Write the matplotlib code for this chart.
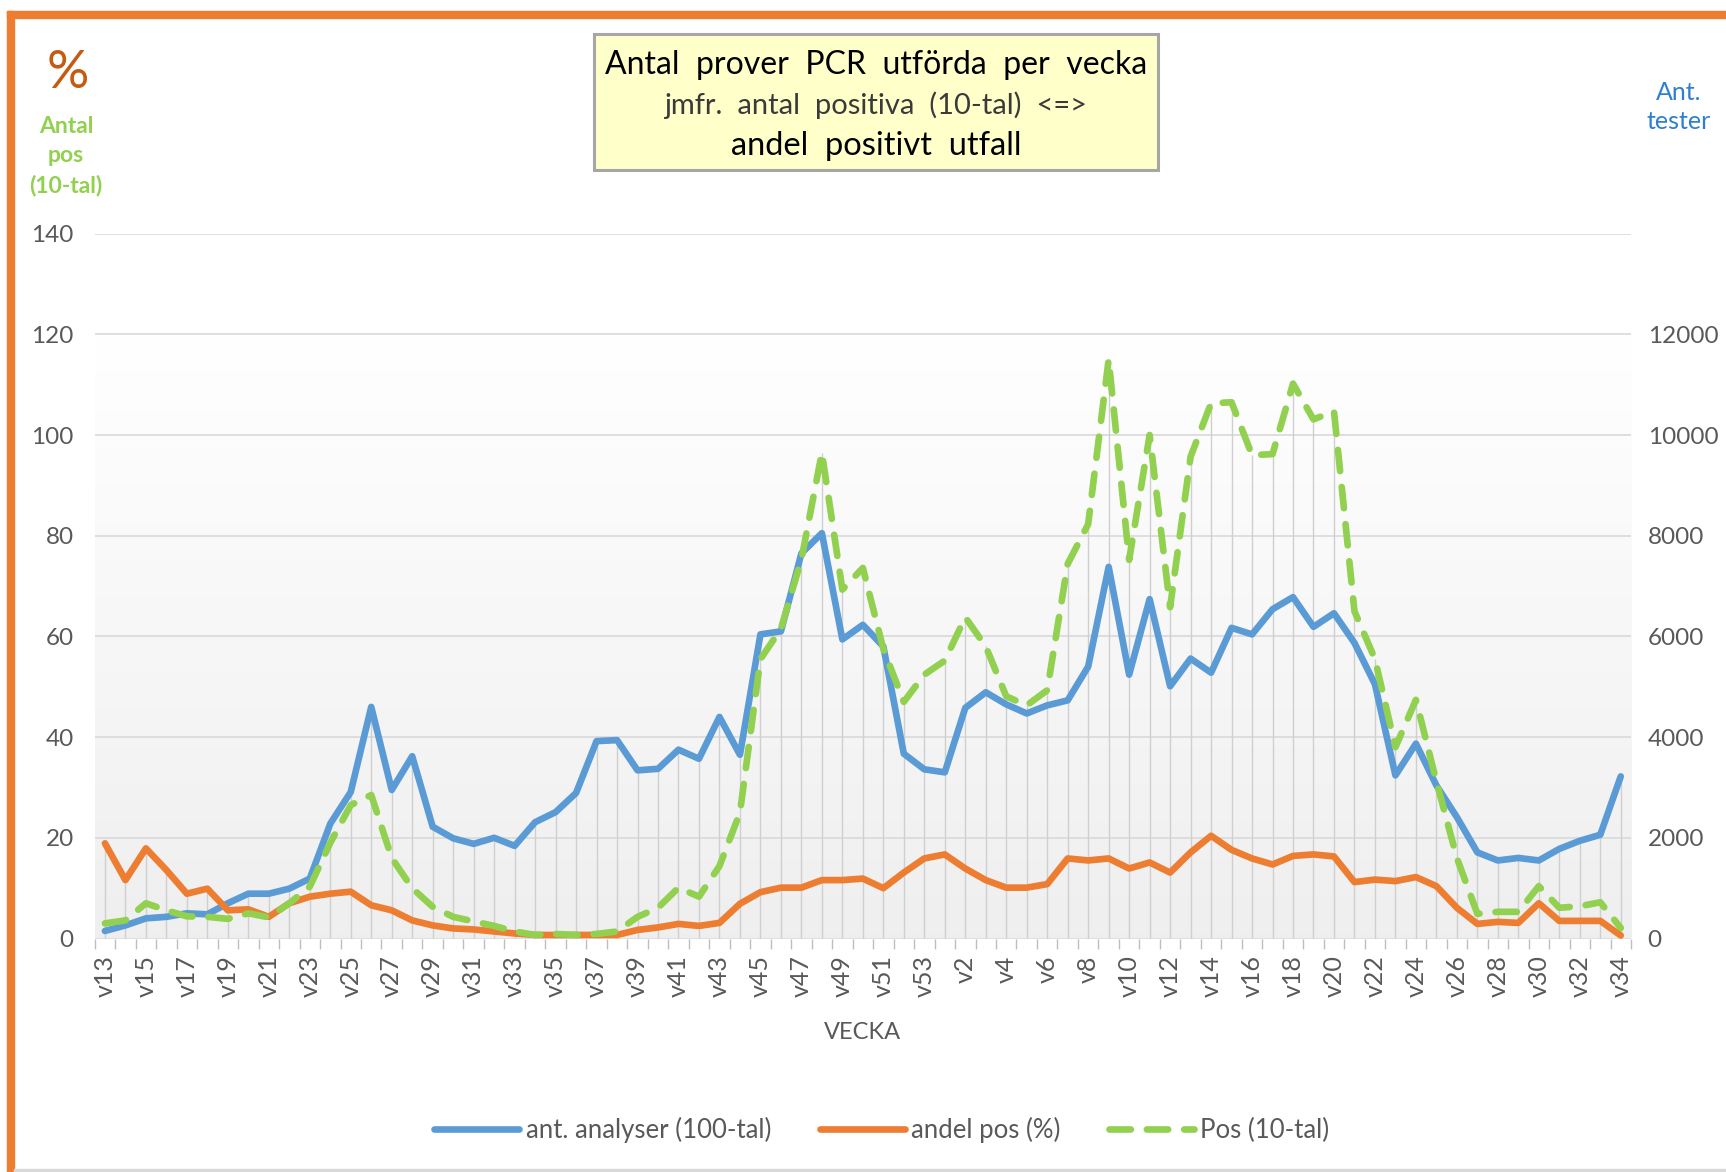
import numpy as np
import matplotlib.pyplot as plt
from matplotlib.patches import Rectangle
from matplotlib.lines import Line2D

plt.rcParams['font.family'] = ['Lato', 'DejaVu Sans']

weeks = ([f"v{w}" for w in range(13, 54)] + [f"v{w}" for w in range(1, 35)])

# ant. analyser (100-tal)
analyser = [1.5, 2.6, 4.0, 4.3, 5.0, 4.8, 7.0, 8.9, 8.9, 9.9,
            11.9, 22.8, 29.1, 46.0, 29.5, 36.2, 22.2, 19.9, 18.8, 20.0,
            18.4, 23.1, 25.1, 28.9, 39.2, 39.4, 33.4, 33.7, 37.5, 35.7,
            44.0, 36.5, 60.4, 61.0, 76.5, 80.5, 59.4, 62.3, 58.0, 36.7,
            33.6, 33.0, 45.8, 48.9, 46.5, 44.7, 46.3, 47.3, 54.0, 73.8,
            52.4, 67.4, 50.1, 55.6, 52.8, 61.7, 60.4, 65.4, 67.8, 61.9,
            64.6, 58.7, 50.5, 32.4, 38.7, 30.4, 24.1, 17.1, 15.5, 16.0,
            15.5, 17.8, 19.4, 20.6, 32.2]

# andel pos (%)
andel = [18.9, 11.6, 17.9, 13.6, 8.9, 9.9, 5.6, 5.8, 4.3, 7.0,
         8.3, 8.9, 9.3, 6.6, 5.6, 3.6, 2.6, 2.0, 1.8, 1.4,
         1.0, 0.7, 0.7, 0.7, 0.7, 0.7, 1.7, 2.2, 2.9, 2.5,
         3.1, 6.9, 9.2, 10.1, 10.1, 11.6, 11.6, 11.9, 10.0, 13.1,
         15.9, 16.7, 13.9, 11.6, 10.1, 10.1, 10.8, 15.9, 15.5, 15.9,
         13.9, 15.1, 13.1, 17.1, 20.4, 17.6, 15.9, 14.7, 16.4, 16.7,
         16.3, 11.2, 11.7, 11.4, 12.2, 10.4, 6.1, 2.9, 3.3, 3.1,
         7.0, 3.5, 3.5, 3.5, 0.6]

# Pos (10-tal)
pos = [3.0, 3.6, 7.0, 5.6, 4.4, 4.3, 3.9, 5.0, 4.2, 7.0,
       10.3, 19.0, 26.5, 28.5, 16.0, 10.0, 6.3, 4.3, 3.4, 2.5,
       1.4, 0.7, 0.9, 0.7, 0.9, 1.4, 4.3, 6.1, 10.1, 8.3,
       14.4, 25.0, 55.5, 61.5, 75.3, 96.5, 69.3, 73.6, 57.5, 47.0,
       52.4, 55.2, 63.8, 58.0, 48.1, 46.3, 49.3, 74.4, 82.3, 115.0,
       75.2, 100.0, 65.8, 95.7, 106.3, 106.5, 96.0, 96.2, 110.2, 103.1,
       104.7, 65.0, 55.5, 38.0, 47.4, 31.2, 16.0, 4.9, 5.3, 5.3,
       10.4, 6.1, 6.4, 7.2, 2.1]

left_ticks = list(range(0, 141, 20))
right_ticks = list(range(0, 12001, 2000))

BLUE = '#5B9BD5'
ORANGE = '#ED7D31'
GREEN = '#92D050'
GRAY = '#595959'

W, H = 1726, 1172
fig = plt.figure(figsize=(W / 100, H / 100), dpi=100)

# outer orange frame (top and left), grey bottom line
fig.patches.append(Rectangle((7 / W, 0), 7 / W, 1 - 11 / H, transform=fig.transFigure,
                             color=ORANGE, zorder=0))
fig.patches.append(Rectangle((7 / W, 1 - 18 / H), 1, 7 / H, transform=fig.transFigure,
                             color=ORANGE, zorder=0))
fig.patches.append(Rectangle((14 / W, 0), 1, 3 / H, transform=fig.transFigure,
                             color='#D9D9D9', zorder=0))

L, R = 94.7 / W, 1631 / W
B, T = 1 - 938.5 / H, 1 - 233.6 / H
ax = fig.add_axes([L, B, R - L, T - B])
x = np.arange(len(weeks))
ax.set_xlim(-0.5, len(weeks) - 0.5)
ax.set_ylim(0, 140)

# gradient background
grad = np.linspace(0, 1, 256)
top_c = np.array([1.0, 1.0, 1.0])
bot_c = np.array([0.937, 0.937, 0.937])
col = bot_c[None, :] + (top_c - bot_c)[None, :] * np.clip(grad / (120 / 140), 0, 1)[:, None]
ax.imshow(col[:, None, :], extent=(-0.5, len(weeks) - 0.5, 0, 140), aspect='auto',
          origin='lower', zorder=0, interpolation='bilinear')

for s in ax.spines.values():
    s.set_visible(False)

ax.set_yticks(left_ticks)
ax.yaxis.grid(True, color='#D9D9D9', lw=1.2, zorder=0.5)
ax.set_axisbelow(True)
ax.tick_params(axis='y', length=0, pad=15, labelsize=17.5, labelcolor=GRAY)

ax.set_xticks(x[::2])
ax.set_xticklabels(weeks[::2], rotation=90, fontsize=18, color=GRAY)
ax.set_xticks(np.arange(-0.5, len(weeks), 1), minor=True)
ax.tick_params(axis='x', which='major', length=0, pad=12)
ax.tick_params(axis='x', which='minor', length=7, color='#BFBFBF', width=1)

# drop lines
top_vals = np.maximum.reduce([np.array(analyser), np.array(andel), np.array(pos)])
ax.vlines(x, 0, top_vals, color='#CFCFCF', lw=1.0, zorder=1)

lw = 4.8
ax.plot(x, analyser, color=BLUE, lw=lw, solid_capstyle='round', solid_joinstyle='round', zorder=3)
ax.plot(x, andel, color=ORANGE, lw=lw, solid_capstyle='round', solid_joinstyle='round', zorder=3)
ax.plot(x, pos, color=GREEN, lw=lw, dashes=(3.2, 2.4), dash_capstyle='round',
        dash_joinstyle='round', zorder=4)

ax.set_xlabel('VECKA', fontsize=17, color=GRAY, labelpad=18)

# right axis (Ant. tester)
ax2 = ax.twinx()
ax2.set_ylim(0, 14000)
ax2.set_yticks(right_ticks)
for s in ax2.spines.values():
    s.set_visible(False)
ax2.tick_params(axis='y', length=0, pad=12, labelsize=17.5, labelcolor=GRAY)

# side labels
fig.text(68 / W, 1 - 74 / H, '%', fontsize=38, color='#C55A11', ha='center', va='center')
fig.text(66 / W, 1 - 156 / H, 'Antal\npos\n(10-tal)', fontsize=16.5, color=GREEN,
         fontweight='bold', ha='center', va='center', linespacing=1.47)
fig.text(1679 / W, 1 - 107 / H, 'Ant.\ntester', fontsize=18, color='#2E7FD0',
         ha='center', va='center', linespacing=1.35)

# title box
bx0, bx1, by0, by1 = 594, 1158, 34, 170
fig.patches.append(Rectangle((bx0 / W, 1 - by1 / H), (bx1 - bx0) / W, (by1 - by0) / H,
                             transform=fig.transFigure, facecolor='#FFFFC9',
                             edgecolor='#A6A6A6', lw=2.2, zorder=5))
cx = (bx0 + bx1) / 2 / W
fig.text(cx, 1 - 65 / H, 'Antal  prover  PCR  utförda  per  vecka', fontsize=23,
         color='black', ha='center', va='center', zorder=6)
fig.text(cx, 1 - 105 / H, 'jmfr.  antal  positiva  (10-tal)  <=>', fontsize=21,
         color='#3A3A3A', ha='center', va='center', zorder=6)
fig.text(cx, 1 - 146 / H, 'andel  positivt  utfall', fontsize=23.5,
         color='black', ha='center', va='center', zorder=6)

# legend
handles = [Line2D([], [], color=BLUE, lw=lw, solid_capstyle='round'),
           Line2D([], [], color=ORANGE, lw=lw, solid_capstyle='round'),
           Line2D([], [], color=GREEN, lw=lw, dashes=(3.2, 2.4), dash_capstyle='round')]
labels = ['ant. analyser (100-tal)', 'andel pos (%)', 'Pos (10-tal)']
leg = fig.legend(handles, labels, loc='center', bbox_to_anchor=(882 / W, 1 - 1130 / H),
                 ncol=3, frameon=False, fontsize=18.5, handlelength=3.3,
                 handletextpad=0.25, columnspacing=1.9)
for t in leg.get_texts():
    t.set_color(GRAY)

fig.savefig('out.png', dpi=100, facecolor='white')
